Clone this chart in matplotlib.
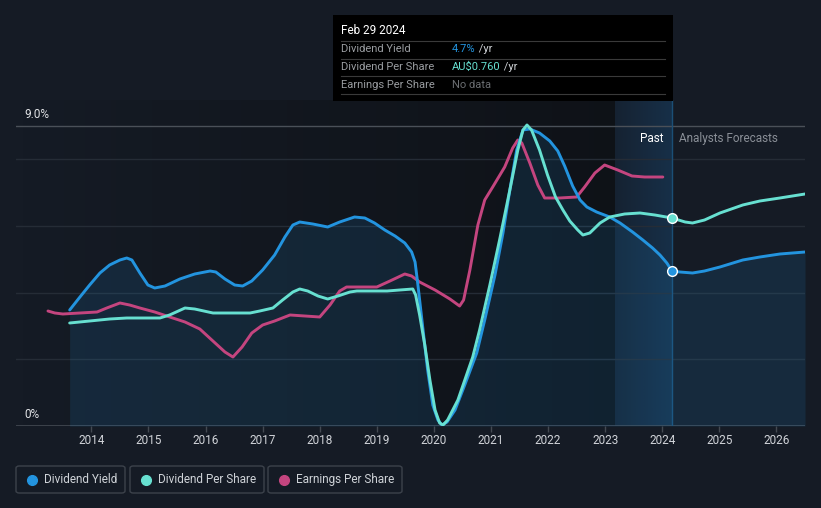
"""
Dividend yield / DPS / EPS history chart
"""
import matplotlib
matplotlib.use('Agg')
import matplotlib.pyplot as plt
import numpy as np
from matplotlib.patches import Rectangle, FancyBboxPatch
from matplotlib.lines import Line2D

plt.rcParams['font.family'] = ['Roboto', 'DejaVu Sans']

# dividend yield (%)
dy_year = [2013.62, 2013.80, 2013.97, 2014.15, 2014.32, 2014.50, 2014.62, 2014.71, 2014.85, 2014.99,
           2015.11, 2015.29, 2015.55, 2015.81, 2016.08, 2016.18, 2016.34, 2016.51, 2016.65, 2016.81,
           2017.00, 2017.21, 2017.39, 2017.53, 2017.65, 2017.88, 2018.14, 2018.35, 2018.61, 2018.79,
           2018.96, 2019.14, 2019.32, 2019.49, 2019.61, 2019.67, 2019.72, 2019.79, 2019.89, 2019.98,
           2020.07, 2020.14, 2020.23, 2020.37, 2020.54, 2020.75, 2020.89, 2021.07, 2021.21, 2021.33,
           2021.45, 2021.56, 2021.68, 2021.85, 2022.03, 2022.17, 2022.29, 2022.43, 2022.56, 2022.68,
           2022.85, 2023.08, 2023.26, 2023.48, 2023.66, 2023.83, 2023.96, 2024.08, 2024.17, 2024.31,
           2024.53, 2024.74, 2025.01, 2025.41, 2025.71, 2026.06, 2026.50]
dy_val = [3.48, 3.87, 4.23, 4.59, 4.83, 4.98, 5.04, 4.98, 4.59, 4.23,
          4.14, 4.20, 4.41, 4.56, 4.65, 4.62, 4.41, 4.23, 4.20, 4.35,
          4.68, 5.13, 5.67, 6.03, 6.12, 6.06, 5.97, 6.12, 6.27, 6.24,
          6.09, 5.88, 5.70, 5.49, 5.22, 4.92, 4.23, 3.18, 1.68, 0.63,
          0.18, 0.03, 0.12, 0.48, 1.23, 2.19, 3.18, 4.53, 5.79, 7.08,
          8.28, 8.88, 8.91, 8.79, 8.55, 8.25, 7.80, 7.20, 6.78, 6.57,
          6.42, 6.27, 6.09, 5.82, 5.58, 5.34, 5.13, 4.89, 4.65, 4.62,
          4.59, 4.65, 4.77, 4.98, 5.07, 5.16, 5.22]

# dividend per share (scaled to chart)
dps_year = [2013.62, 2013.97, 2014.32, 2014.62, 2014.85, 2015.20, 2015.37, 2015.64, 2015.81, 2016.13,
            2016.43, 2016.78, 2016.95, 2017.18, 2017.35, 2017.53, 2017.65, 2017.79, 2017.97, 2018.14,
            2018.32, 2018.53, 2018.65, 2018.88, 2019.18, 2019.40, 2019.63, 2019.68, 2019.75, 2019.84,
            2019.93, 2020.02, 2020.10, 2020.16, 2020.24, 2020.42, 2020.68, 2020.80, 2020.98, 2021.15,
            2021.33, 2021.47, 2021.56, 2021.63, 2021.71, 2021.85, 2021.99, 2022.13, 2022.26, 2022.38,
            2022.52, 2022.61, 2022.73, 2022.91, 2023.08, 2023.34, 2023.61, 2023.87, 2024.17, 2024.40,
            2024.53, 2024.74, 2025.01, 2025.41, 2025.71, 2026.06, 2026.50]
dps_val = [3.09, 3.15, 3.21, 3.24, 3.24, 3.24, 3.33, 3.54, 3.51, 3.39,
           3.39, 3.39, 3.45, 3.54, 3.78, 4.02, 4.11, 4.05, 3.90, 3.81,
           3.90, 4.02, 4.05, 4.05, 4.05, 4.08, 4.11, 3.93, 3.33, 2.43,
           1.38, 0.48, 0.09, 0.03, 0.18, 0.78, 2.07, 2.88, 4.23, 5.58,
           7.08, 8.28, 8.88, 9.03, 8.88, 8.28, 7.53, 6.87, 6.48, 6.15,
           5.88, 5.73, 5.79, 6.09, 6.27, 6.36, 6.39, 6.33, 6.24, 6.12,
           6.09, 6.18, 6.39, 6.63, 6.75, 6.84, 6.96]

# earnings per share (scaled to chart)
eps_year = [2013.24, 2013.36, 2013.50, 2013.80, 2014.10, 2014.27, 2014.50, 2014.67, 2014.85, 2015.11,
            2015.32, 2015.64, 2015.90, 2016.11, 2016.34, 2016.48, 2016.64, 2016.81, 2017.00, 2017.21,
            2017.48, 2017.74, 2018.00, 2018.18, 2018.35, 2018.47, 2018.74, 2019.00, 2019.23, 2019.49,
            2019.61, 2019.75, 2020.02, 2020.28, 2020.45, 2020.52, 2020.63, 2020.77, 2020.89, 2021.03,
            2021.24, 2021.38, 2021.47, 2021.54, 2021.68, 2021.82, 2021.94, 2022.20, 2022.50, 2022.64,
            2022.82, 2022.99, 2023.22, 2023.47, 2023.69, 2024.01]
eps_val = [3.45, 3.39, 3.36, 3.39, 3.42, 3.54, 3.69, 3.63, 3.54, 3.42,
           3.30, 3.12, 2.91, 2.58, 2.22, 2.07, 2.37, 2.79, 3.03, 3.15,
           3.33, 3.30, 3.27, 3.63, 4.05, 4.17, 4.17, 4.17, 4.35, 4.56,
           4.50, 4.32, 4.08, 3.81, 3.60, 3.78, 4.68, 6.03, 6.78, 7.17,
           7.77, 8.34, 8.58, 8.49, 7.89, 7.23, 6.84, 6.84, 6.87, 7.17,
           7.59, 7.83, 7.68, 7.50, 7.47, 7.47]

x_ticks = [2014, 2015, 2016, 2017, 2018, 2019, 2020, 2021, 2022, 2023, 2024, 2025, 2026]
past_start = 2023.17
today = 2024.17
today_dy = 4.65
today_dps = 6.24

BG = '#151b25'
C_DY = '#2394df'
C_DPS = '#67e0d1'
C_EPS = '#c4457f'

fig = plt.figure(figsize=(8.21, 5.08), dpi=100, facecolor=BG)
ax = fig.add_axes([16 / 821, 82 / 508, 789 / 821, 326 / 508])
ax.set_facecolor(BG)
x0, x1 = 2012.68, 2026.50
y0, y1 = 0, 9.78

# darker past area (gradient)
grad = np.zeros((2, 256, 4))
grad[..., 0:3] = 0.03
grad[..., 3] = np.linspace(0.0, 0.45, 256)
ax.imshow(grad, extent=[x0, past_start, y0, y1], aspect='auto', zorder=1)

# highlighted last-year band
band = np.zeros((2, 256, 4))
band[..., 0] = 0.11
band[..., 1] = 0.40
band[..., 2] = 0.65
band[..., 3] = np.linspace(0.10, 0.28, 256)
ax.imshow(band, extent=[past_start, today, y0, y1], aspect='auto', zorder=1)

# grid
for g in [2, 4, 6, 8]:
    ax.axhline(g, color='#252c36', lw=1, zorder=2)
ax.axhline(9, color='#4a5058', lw=1, zorder=2)
ax.axhline(0, color='#434952', lw=1.2, zorder=2)
ax.axvline(today, color='#1b4f76', lw=1, zorder=2)

ax.fill_between(dy_year, dy_val, 0, color=C_DY, alpha=0.13, lw=0, zorder=3)

ax.plot(eps_year, eps_val, color=C_EPS, lw=2.1, zorder=4, solid_capstyle='round', solid_joinstyle='round')
ax.plot(dy_year, dy_val, color=C_DY, lw=2.1, zorder=5, solid_capstyle='round', solid_joinstyle='round')
ax.plot(dps_year, dps_val, color=C_DPS, lw=2.1, zorder=6, solid_capstyle='round', solid_joinstyle='round')
ax.plot([today], [today_dy], 'o', color=C_DY, mec='white', mew=1, ms=7, zorder=7)
ax.plot([today], [today_dps], 'o', color=C_DPS, mec='white', mew=1, ms=7, zorder=7)

ax.set_xlim(x0, x1)
ax.set_ylim(y0, y1)
for s in ax.spines.values():
    s.set_visible(False)
ax.set_yticks([])
ax.set_xticks(x_ticks)
ax.set_xticklabels([str(t) for t in x_ticks])
ax.tick_params(axis='x', length=4, width=1, color='#434952', colors='#d0d3d8',
               labelsize=8.5, pad=2)

ax.text(2012.82, 9.36, '9.0%', color='#e2e4e7', fontsize=8.5, va='center')
ax.text(2012.82, 0.36, '0%', color='#e2e4e7', fontsize=8.5, va='center')
ax.text(2024.02, 8.62, 'Past', color='white', fontsize=8.5, ha='right', va='center')
ax.text(2024.30, 8.62, 'Analysts Forecasts', color='#8a8f97', fontsize=8.5, ha='left', va='center')

# tooltip box
def fx(px):
    return px / 821

def fy(py):
    return 1 - py / 508

fig.patches.append(Rectangle((fx(333), fy(101)), fx(340), 86 / 508, transform=fig.transFigure,
                             facecolor='black', edgecolor='none', zorder=10))
fig.text(fx(341), fy(31), 'Feb 29 2024', color='white', fontsize=8.5, va='center', zorder=11)
for py in [41, 58.5, 76, 93.5]:
    fig.lines.append(Line2D([fx(341), fx(665)], [fy(py), fy(py)], transform=fig.transFigure,
                            color='#3a3a3a', lw=0.8, zorder=11))
rows = [('Dividend Yield', '4.7%', C_DY, ' /yr'),
        ('Dividend Per Share', 'AU$0.760', C_DPS, ' /yr'),
        ('Earnings Per Share', 'No data', '#6b6e72', '')]
for i, (name, val, col, suffix) in enumerate(rows):
    yy = fy(49.5 + i * 17.5)
    fig.text(fx(341), yy, name, color='#9a9da1', fontsize=8, va='center', zorder=11)
    t = fig.text(fx(452), yy, val, color=col, fontsize=8, va='center', zorder=11)
    if suffix:
        fig.canvas.draw()
        bb = t.get_window_extent()
        fig.text(bb.x1 / 821, yy, suffix, color='#cfd2d6', fontsize=8, va='center', zorder=11)

# legend
legend_items = [('Dividend Yield', C_DY, 16, 125),
                ('Dividend Per Share', C_DPS, 130, 264),
                ('Earnings Per Share', C_EPS, 268, 402)]
for name, col, xa, xb in legend_items:
    fig.patches.append(FancyBboxPatch((fx(xa), fy(493)), fx(xb - xa), 27 / 508,
                                      boxstyle='round,pad=0,rounding_size=0.004',
                                      transform=fig.transFigure, facecolor='none',
                                      edgecolor='#3c424b', lw=1))
    fig.lines.append(Line2D([fx(xa + 16)], [fy(479.5)], marker='o', ms=7, color=col,
                            transform=fig.transFigure))
    fig.text(fx(xa + 28), fy(479.5), name, color='#cfd3d8', fontsize=8.5, va='center')

fig.savefig('out.png', dpi=100, facecolor=BG)
